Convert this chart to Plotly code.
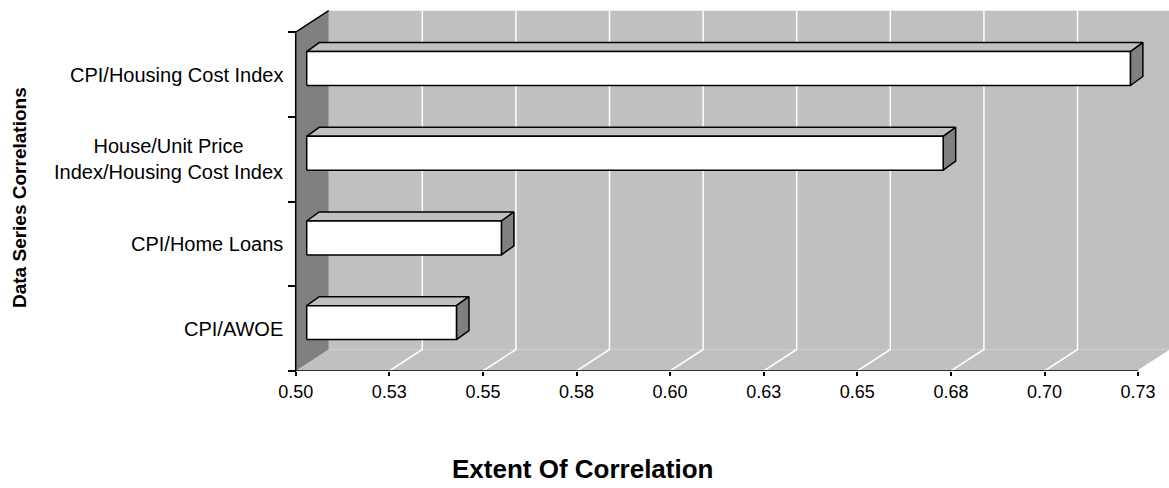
import plotly.graph_objects as go

# ---------------- data ----------------
categories = ["CPI/AWOE", "CPI/Home Loans",
              "House/Unit Price<br>Index/Housing Cost Index",
              "CPI/Housing Cost Index"]
values = [0.540, 0.552, 0.670, 0.720]
tick_values = [0.5, 0.525, 0.55, 0.575, 0.6, 0.625, 0.65, 0.675, 0.7, 0.725]
tick_labels = ["0.50", "0.53", "0.55", "0.58", "0.60", "0.63", "0.65", "0.68", "0.70", "0.73"]
x_title = "Extent Of Correlation"
y_title = "Data Series Correlations"

# ---------------- style / geometry ----------------
W, H = 1169, 488
FONT = "Liberation Sans, Arial, sans-serif"
XMIN, XMAX = tick_values[0], tick_values[-1]
PX_X = 93.6 / 0.025          # pixels per value unit
PX_Y = 84.7                  # pixels per category
X0_PX = 295.7                # pixel of XMIN on the front plane
PLOT_BOTTOM = 371
x_range = [XMIN - X0_PX / PX_X, XMIN + (W - X0_PX) / PX_X]
y_range = [-0.5, -0.5 + PLOT_BOTTOM / PX_Y]
DX, DY = 33 / PX_X, 21.5 / PX_Y            # full depth of the 3D box
BFX, BFY = 11 / PX_X, 6 / PX_Y             # bar front offset
BBX, BBY = 23.5 / PX_X, 15 / PX_Y          # bar back offset
HALF = 0.2
YB, YT = -0.5, len(categories) - 0.5

WALL = "#C0C0C0"
SIDE = "#808080"

fig = go.Figure()


def poly(xs, ys, fill, line_color="black", lw=0):
    fig.add_trace(go.Scatter(
        x=list(xs) + [xs[0]], y=list(ys) + [ys[0]], mode="lines",
        fill="toself", fillcolor=fill,
        line=dict(color=line_color, width=lw),
        hoverinfo="skip", showlegend=False))


def line(xs, ys, color, lw):
    fig.add_trace(go.Scatter(x=xs, y=ys, mode="lines",
                             line=dict(color=color, width=lw),
                             hoverinfo="skip", showlegend=False))


# back wall
poly([XMIN + DX, XMAX + DX + 0.01, XMAX + DX + 0.01, XMIN + DX],
     [YB + DY, YB + DY, YT + DY, YT + DY], WALL, WALL, 0)
# floor
poly([XMIN, XMAX, XMAX + DX, XMIN + DX], [YB, YB, YB + DY, YB + DY], WALL, WALL, 0)
# side wall
poly([XMIN, XMIN + DX, XMIN + DX, XMIN], [YB, YB + DY, YT + DY, YT], SIDE, SIDE, 0)
# gridlines
for v in tick_values[1:]:
    line([v, v + DX, v + DX], [YB, YB + DY, YT + DY], "white", 1.5)
# axis lines
line([XMAX, XMIN, XMIN, XMIN + DX], [YB, YB, YT, YT + DY], "black", 1.5)

# bars
for i, v in enumerate(values):
    yb, yt = i - HALF, i + HALF
    # top face
    poly([XMIN + BFX, v + BFX, v + BBX, XMIN + BBX],
         [yt + BFY, yt + BFY, yt + BBY, yt + BBY], WALL, "black", 1.5)
    # side face
    poly([v + BFX, v + BBX, v + BBX, v + BFX],
         [yb + BFY, yb + BBY, yt + BBY, yt + BFY], SIDE, "black", 1.5)
    # front face
    poly([XMIN + BFX, v + BFX, v + BFX, XMIN + BFX],
         [yb + BFY, yb + BFY, yt + BFY, yt + BFY], "white", "black", 1.5)

annotations = []
for i, c in enumerate(categories):
    annotations.append(dict(
        x=285 / W, xref="paper", y=i, yref="y", text=c, showarrow=False,
        xanchor="right", yanchor="middle", align="center",
        font=dict(family=FONT, size=20, color="black")))
annotations.append(dict(
    x=19 / W, xref="paper", y=(PLOT_BOTTOM - 198) / PLOT_BOTTOM, yref="paper",
    text="<b>%s</b>" % y_title, textangle=-90, showarrow=False,
    xanchor="center", yanchor="middle",
    font=dict(family=FONT, size=19, color="black")))
annotations.append(dict(
    x=582 / W, xref="paper", y=(PLOT_BOTTOM - 469) / PLOT_BOTTOM, yref="paper",
    text="<b>%s</b>" % x_title, showarrow=False,
    xanchor="center", yanchor="middle",
    font=dict(family=FONT, size=26, color="black")))

fig.update_layout(
    width=W, height=H,
    margin=dict(l=0, r=0, t=0, b=H - PLOT_BOTTOM, pad=0),
    paper_bgcolor="white", plot_bgcolor="white",
    showlegend=False,
    annotations=annotations,
    xaxis=dict(range=x_range, tickvals=tick_values, ticktext=tick_labels,
               ticks="outside", ticklen=4, tickwidth=1.5, tickcolor="black",
               showgrid=False, zeroline=False, showline=False,
               tickfont=dict(family=FONT, size=18, color="black"),
               fixedrange=True),
    yaxis=dict(range=y_range, anchor="free", position=X0_PX / W,
               tickvals=[i - 0.5 for i in range(len(categories) + 1)],
               ticks="outside", ticklen=8, tickwidth=1.5, tickcolor="black",
               showticklabels=False, showgrid=False, zeroline=False,
               showline=False, fixedrange=True),
)

fig.write_html("out.html")
